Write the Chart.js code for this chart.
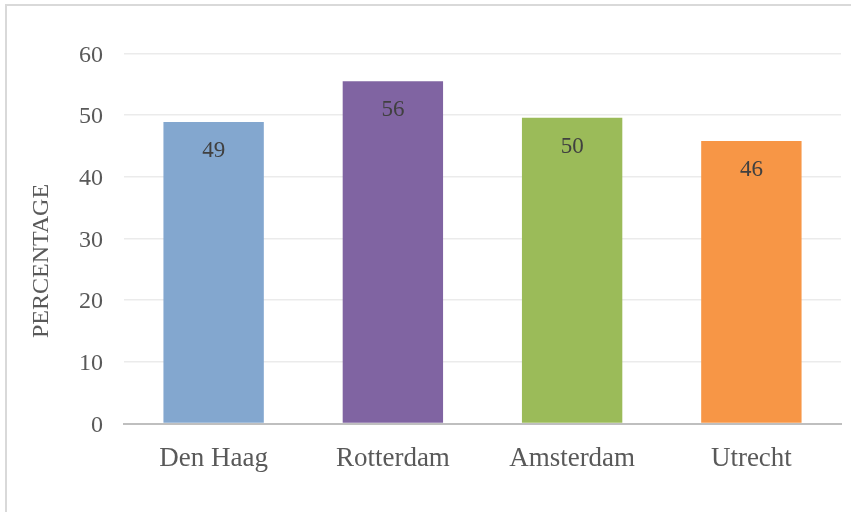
<!DOCTYPE html>
<html>
<head>
<meta charset="utf-8">
<script src="https://cdn.jsdelivr.net/npm/chart.js@4/dist/chart.umd.min.js"></script>
<style>
    html, body { margin: 0; padding: 0; background: #fff; overflow: hidden; }
    #wrap { position: relative; width: 851px; height: 512px; }
    #frame {
        position: absolute; left: 5px; top: 4px; width: 860px; height: 520px;
        border: 2px solid #d9d9d9; pointer-events: none;
    }
    canvas { position: absolute; left: 0; top: 0; }
</style>
</head>
<body>
<div id="wrap">
    <canvas id="chart" width="851" height="512"></canvas>
    <div id="frame"></div>
</div>
<script>
// data
const cities = ['Den Haag', 'Rotterdam', 'Amsterdam', 'Utrecht'];
const percentages = [48.9, 55.5, 49.6, 45.8];
const barColors = ['#83a7cf', '#8064a2', '#9bbb59', '#f79646'];
const yTicks = [0, 10, 20, 30, 40, 50, 60];
const yTitle = 'PERCENTAGE';

const FONT = "'Liberation Serif', 'Times New Roman', serif";

// value labels inside the top of each bar
const barLabels = {
    id: 'barLabels',
    afterDatasetsDraw(chart) {
        const ctx = chart.ctx;
        const meta = chart.getDatasetMeta(0);
        ctx.save();
        ctx.font = '23px ' + FONT;
        ctx.fillStyle = '#404040';
        ctx.textAlign = 'center';
        ctx.textBaseline = 'middle';
        meta.data.forEach((bar, i) => {
            ctx.fillText(Math.round(percentages[i]), bar.x, bar.y + 29);
        });
        ctx.restore();
    }
};

// rotated y axis title (sits a bit below the middle of the plot)
const yAxisTitle = {
    id: 'yAxisTitle',
    afterDraw(chart) {
        const ctx = chart.ctx;
        ctx.save();
        ctx.translate(42, 261);
        ctx.rotate(-Math.PI / 2);
        ctx.font = '24px ' + FONT;
        ctx.fillStyle = '#595959';
        ctx.textAlign = 'center';
        ctx.textBaseline = 'middle';
        ctx.fillText(yTitle, 0, 0);
        ctx.restore();
    }
};

new Chart(document.getElementById('chart'), {
    type: 'bar',
    data: {
        labels: cities,
        datasets: [{
            data: percentages,
            backgroundColor: barColors,
            borderWidth: 0,
            categoryPercentage: 1,
            barPercentage: 0.56
        }]
    },
    options: {
        responsive: false,
        animation: false,
        events: [],
        layout: { padding: { top: 53.5, right: 10, left: 0, bottom: 0 } },
        plugins: {
            legend: { display: false },
            tooltip: { enabled: false }
        },
        scales: {
            x: {
                grid: { display: false },
                border: { display: true, color: '#bfbfbf', width: 2 },
                ticks: {
                    color: '#595959',
                    font: { family: FONT, size: 27 },
                    padding: 11,
                    maxRotation: 0
                },
                afterFit(scale) { scale.height = 88.5; }
            },
            y: {
                min: 0,
                max: 60,
                afterBuildTicks(scale) {
                    scale.ticks = yTicks.map(v => ({ value: v }));
                },
                grid: { color: '#ebebeb', lineWidth: 1.5, drawTicks: false },
                border: { display: false },
                ticks: {
                    color: '#595959',
                    font: { family: FONT, size: 24 },
                    padding: 21,
                    labelOffset: 2
                },
                afterFit(scale) { scale.width = 124; }
            }
        }
    },
    plugins: [barLabels, yAxisTitle]
});
</script>
</body>
</html>
